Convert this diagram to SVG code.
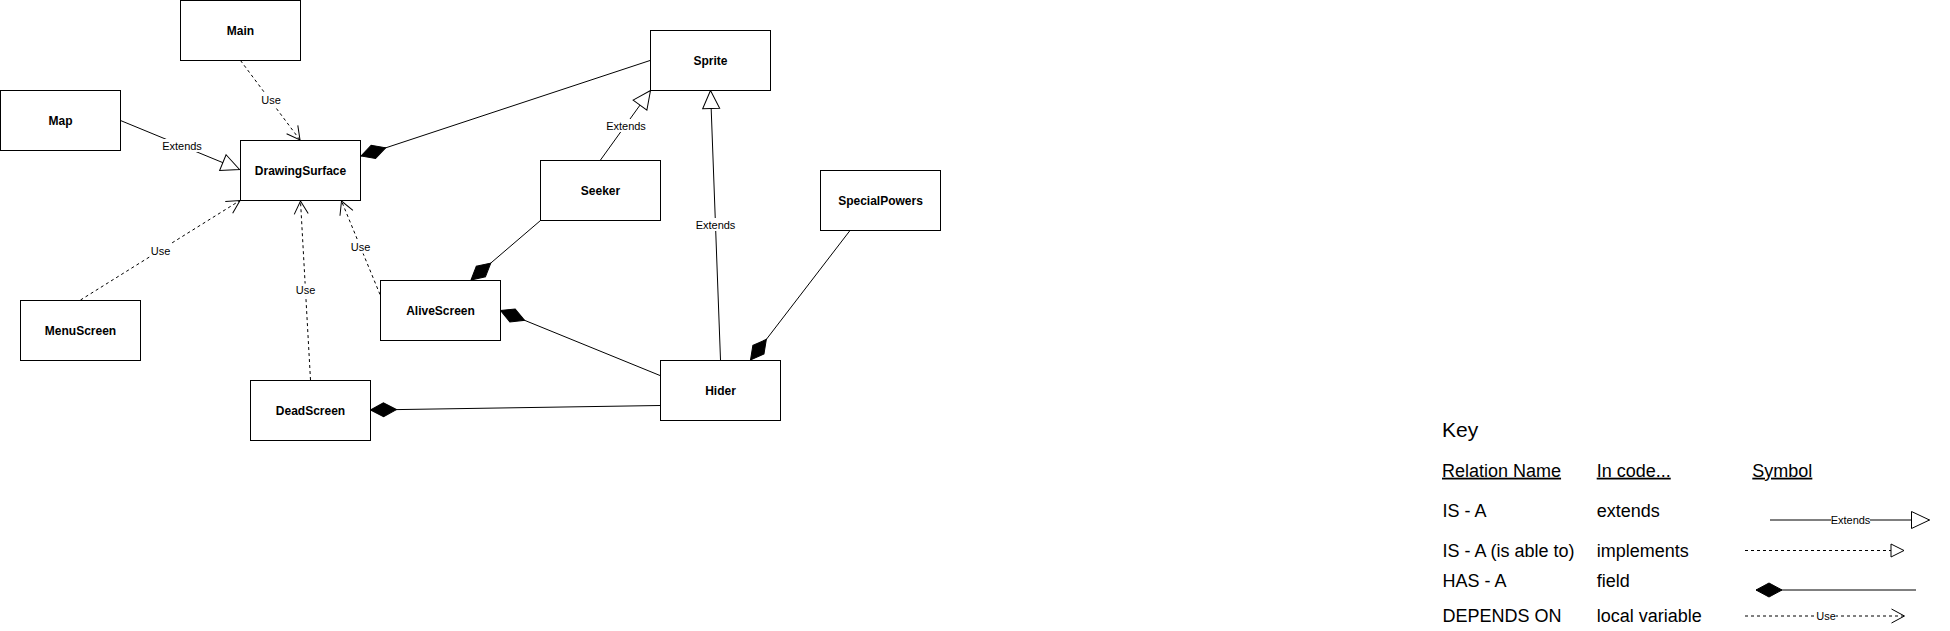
<svg xmlns="http://www.w3.org/2000/svg" width="1950" height="631" viewBox="0 0 1950 631">
<style>
.box{fill:#fff;stroke:#000;stroke-width:1}
.nl{font-family:"Liberation Sans",Arial,sans-serif;font-size:12px;font-weight:bold;fill:#000;text-anchor:middle;dominant-baseline:central}
.el{font-family:"Liberation Sans",Arial,sans-serif;font-size:11px;fill:#000;text-anchor:middle;dominant-baseline:central}
.lb{fill:#fff;stroke:none}
.solid{fill:none;stroke:#000;stroke-width:1}
.dash{fill:none;stroke:#000;stroke-width:1;stroke-dasharray:3 3}
.ext{marker-end:url(#tri)}
.imp{marker-end:url(#triS)}
.use{marker-end:url(#open)}
.has{marker-start:url(#dia)}
.kt{font-family:"Liberation Sans",Arial,sans-serif;font-size:18px;fill:#000}
.kh{text-decoration:underline}
</style>
<defs>
<marker id="tri" markerUnits="userSpaceOnUse" markerWidth="20" markerHeight="20" viewBox="-1 -10 20 20" refX="18" refY="0" orient="auto" overflow="visible">
<path d="M0,-8.5 L18,0 L0,8.5 Z" fill="#fff" stroke="#000" stroke-width="1"/>
</marker>
<marker id="triS" markerUnits="userSpaceOnUse" markerWidth="16" markerHeight="16" viewBox="-1 -8 16 16" refX="13" refY="0" orient="auto" overflow="visible">
<path d="M0,-6.5 L13,0 L0,6.5 Z" fill="#fff" stroke="#000" stroke-width="1"/>
</marker>
<marker id="open" markerUnits="userSpaceOnUse" markerWidth="16" markerHeight="16" viewBox="-1 -8 16 16" refX="13" refY="0" orient="auto" overflow="visible">
<path d="M0,-7 L13,0 L0,7" fill="none" stroke="#000" stroke-width="1"/>
</marker>
<marker id="dia" markerUnits="userSpaceOnUse" markerWidth="28" markerHeight="18" viewBox="-1 -9 28 18" refX="0" refY="0" orient="auto" overflow="visible">
<path d="M0,0 L13,-7 L26,0 L13,7 Z" fill="#000" stroke="#000" stroke-width="1"/>
</marker>
</defs>

<g id="connectors">
<path class="dash use" d="M240.5,60.5 L300,140"/>
<path class="solid ext" d="M120.5,120.5 L239.5,169.5"/>
<path class="solid has" d="M361,156 L650,60.5"/>
<path class="solid ext" d="M600.5,160 L650.5,90.5"/>
<path class="solid ext" d="M720.5,360 L710.5,90.5"/>
<path class="solid has" d="M750.5,360 L850,230.5"/>
<path class="solid has" d="M471,280 L540.5,220.5"/>
<path class="solid has" d="M500.5,310.5 L660,375.5"/>
<path class="solid has" d="M370.5,410 L660,405.5"/>
<path class="dash use" d="M80.5,300 L240,200.5"/>
<path class="dash use" d="M310.5,380 L300.5,201"/>
<path class="dash use" d="M380,294.5 L341.5,201"/>

<rect class="lb" x="261" y="93.5" width="20" height="13"/>
<text class="el" x="271" y="100">Use</text>
<rect class="lb" x="162" y="139" width="40" height="13"/>
<text class="el" x="182" y="145.5">Extends</text>
<rect class="lb" x="606" y="119" width="40" height="13"/>
<text class="el" x="626" y="125.5">Extends</text>
<rect class="lb" x="695.5" y="218" width="40" height="13"/>
<text class="el" x="715.5" y="224.5">Extends</text>
<rect class="lb" x="150.5" y="244" width="20" height="13"/>
<text class="el" x="160.5" y="250.5">Use</text>
<rect class="lb" x="295.5" y="283.5" width="20" height="13"/>
<text class="el" x="305.5" y="290">Use</text>
<rect class="lb" x="350.5" y="240.5" width="20" height="13"/>
<text class="el" x="360.5" y="247">Use</text>
</g>

<g id="node-main"><rect class="box" x="180.5" y="0.5" width="120" height="60"/><text class="nl" x="240.5" y="30.5">Main</text></g>
<g id="node-map"><rect class="box" x="0.5" y="90.5" width="120" height="60"/><text class="nl" x="60.5" y="120.5">Map</text></g>
<g id="node-drawingsurface"><rect class="box" x="240.5" y="140.5" width="120" height="60"/><text class="nl" x="300.5" y="170.5">DrawingSurface</text></g>
<g id="node-sprite"><rect class="box" x="650.5" y="30.5" width="120" height="60"/><text class="nl" x="710.5" y="60.5">Sprite</text></g>
<g id="node-seeker"><rect class="box" x="540.5" y="160.5" width="120" height="60"/><text class="nl" x="600.5" y="190.5">Seeker</text></g>
<g id="node-specialpowers"><rect class="box" x="820.5" y="170.5" width="120" height="60"/><text class="nl" x="880.5" y="200.5">SpecialPowers</text></g>
<g id="node-alivescreen"><rect class="box" x="380.5" y="280.5" width="120" height="60"/><text class="nl" x="440.5" y="310.5">AliveScreen</text></g>
<g id="node-hider"><rect class="box" x="660.5" y="360.5" width="120" height="60"/><text class="nl" x="720.5" y="390.5">Hider</text></g>
<g id="node-deadscreen"><rect class="box" x="250.5" y="380.5" width="120" height="60"/><text class="nl" x="310.5" y="410.5">DeadScreen</text></g>
<g id="node-menuscreen"><rect class="box" x="20.5" y="300.5" width="120" height="60"/><text class="nl" x="80.5" y="330.5">MenuScreen</text></g>

<g id="key">
<text class="kt" x="1442" y="436.7" style="font-size:21px">Key</text>
<text class="kt kh" x="1442" y="476.7">Relation Name</text>
<text class="kt kh" x="1596.7" y="476.7">In code...</text>
<text class="kt kh" x="1752.3" y="476.7">Symbol</text>
<text class="kt" x="1442.5" y="516.7">IS - A</text>
<text class="kt" x="1596.7" y="516.7">extends</text>
<text class="kt" x="1442.5" y="556.5">IS - A (is able to)</text>
<text class="kt" x="1596.7" y="556.5">implements</text>
<text class="kt" x="1442.5" y="586.7">HAS - A</text>
<text class="kt" x="1596.7" y="586.7">field</text>
<text class="kt" x="1442.5" y="622">DEPENDS ON</text>
<text class="kt" x="1596.7" y="622">local variable</text>
<path class="solid ext" d="M1770,520 L1929.5,520"/>
<rect class="lb" x="1831" y="514" width="39" height="12"/>
<text class="el" x="1850.5" y="520">Extends</text>
<path class="dash imp" d="M1745,550.5 L1904,550.5"/>
<path class="solid has" d="M1756,590 L1916,590"/>
<path class="dash use" d="M1745,616 L1904.5,616"/>
<rect class="lb" x="1816" y="610" width="20" height="12"/>
<text class="el" x="1826" y="616">Use</text>
</g>
</svg>
